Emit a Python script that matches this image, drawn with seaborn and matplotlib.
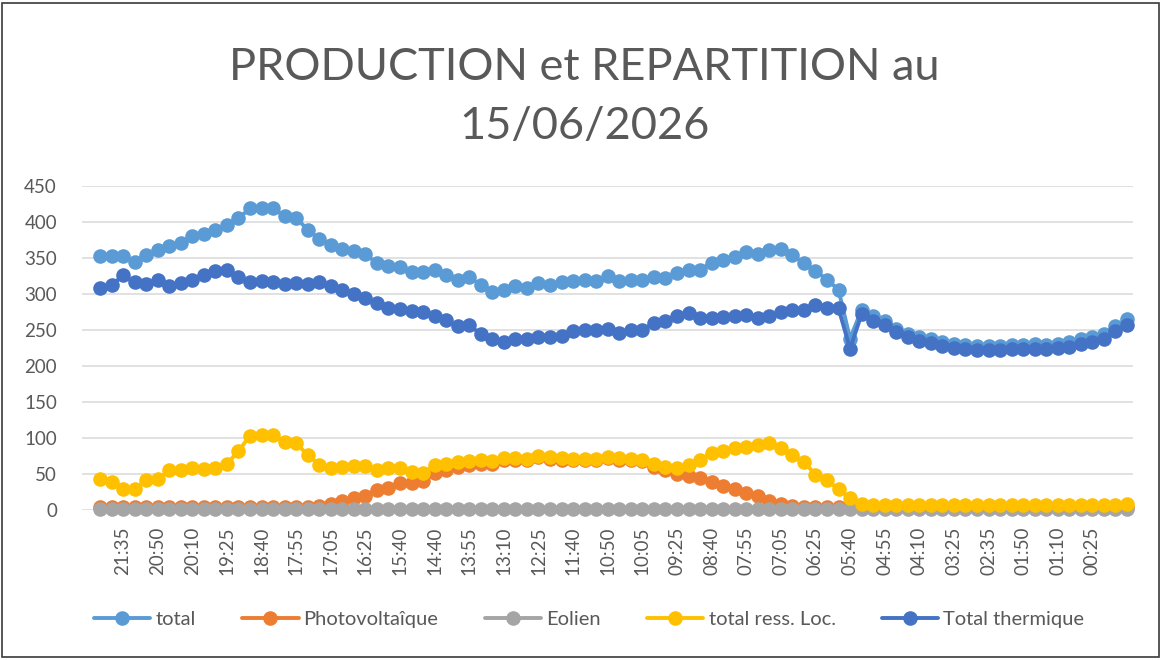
import matplotlib
matplotlib.use("Agg")
import pandas as pd
import numpy as np
import seaborn as sns
import matplotlib.pyplot as plt
from matplotlib.lines import Line2D
from matplotlib.patches import Rectangle

sns.set_theme(style="white")
plt.rcParams['font.family'] = ['Lato', 'DejaVu Sans']

### Data (90 points, time runs backwards)
tick_labels = ["21:35", "20:50", "20:10", "19:25", "18:40", "17:55", "17:05", "16:25",
               "15:40", "14:40", "13:55", "13:10", "12:25", "11:40", "10:50", "10:05",
               "09:25", "08:40", "07:55", "07:05", "06:25", "05:40", "04:55", "04:10",
               "03:25", "02:35", "01:50", "01:10", "00:25"]

total = [353, 353, 353, 345, 354, 361, 367, 371, 380, 383,
         389, 396, 405, 419, 420, 419, 408, 406, 389, 377,
         368, 363, 360, 355, 343, 339, 337, 331, 330, 333,
         327, 319, 324, 312, 303, 306, 311, 308, 315, 312,
         316, 318, 320, 318, 325, 318, 319, 320, 323, 322,
         329, 334, 334, 343, 347, 352, 359, 356, 361, 362,
         354, 343, 332, 320, 306, 238, 278, 270, 263, 252,
         245, 240, 238, 233, 230, 229, 228, 228, 228, 229,
         229, 230, 229, 230, 233, 237, 240, 244, 256, 265]

photovoltaique = [4, 4, 4, 4, 4, 4, 4, 4, 4, 4,
                  4, 4, 4, 4, 4, 4, 4, 4, 4, 5,
                  8, 12, 17, 20, 28, 30, 37, 38, 40, 51,
                  56, 60, 62, 64, 64, 70, 70, 69, 73, 71,
                  70, 69, 69, 69, 72, 70, 69, 68, 60, 56,
                  50, 47, 44, 39, 33, 29, 24, 19, 13, 8,
                  5, 4, 4, 4, 4, 4, 4, 4, 4, 4,
                  4, 4, 4, 4, 4, 4, 4, 4, 4, 4,
                  4, 4, 4, 4, 4, 4, 4, 4, 4, 4]

eolien = [2, 2, 2, 2, 2, 2, 2, 2, 2, 2,
          2, 2, 2, 2, 2, 2, 2, 2, 2, 2,
          2, 2, 2, 2, 2, 2, 2, 2, 2, 2,
          2, 2, 2, 2, 2, 2, 2, 2, 2, 2,
          2, 2, 2, 2, 2, 2, 2, 2, 2, 2,
          2, 2, 2, 2, 2, 2, 2, 2, 2, 2,
          2, 2, 2, 2, 2, 2, 2, 2, 2, 2,
          2, 2, 2, 2, 2, 2, 2, 2, 2, 2,
          2, 2, 2, 2, 2, 2, 2, 2, 2, 2]

total_ress_loc = [43, 39, 29, 29, 42, 43, 55, 56, 58, 57,
                  58, 64, 82, 103, 104, 104, 94, 93, 76, 63,
                  58, 60, 61, 61, 56, 59, 59, 53, 52, 62,
                  64, 67, 68, 69, 68, 72, 72, 71, 75, 73,
                  72, 71, 71, 71, 74, 72, 71, 70, 64, 60,
                  58, 62, 70, 79, 82, 86, 88, 90, 93, 86,
                  76, 67, 49, 41, 29, 16, 8, 7, 7, 7,
                  7, 7, 7, 7, 7, 7, 7, 7, 7, 7,
                  7, 7, 7, 7, 7, 7, 7, 7, 7, 8]

total_thermique = [309, 312, 326, 316, 314, 319, 311, 315, 320, 326,
                   332, 334, 323, 317, 318, 317, 314, 315, 314, 316,
                   311, 305, 300, 294, 287, 280, 279, 277, 275, 269,
                   264, 255, 257, 244, 237, 233, 238, 237, 240, 240,
                   242, 248, 250, 250, 251, 246, 250, 250, 260, 263,
                   269, 273, 266, 266, 268, 269, 271, 266, 269, 275,
                   278, 278, 285, 281, 280, 224, 272, 263, 257, 247,
                   240, 235, 232, 228, 225, 223, 222, 222, 222, 223,
                   223, 224, 224, 225, 227, 230, 233, 238, 249, 257]

series_names = ["total", "Photovoltaîque", "Eolien", "total ress. Loc.", "Total thermique"]
series_values = [total, photovoltaique, eolien, total_ress_loc, total_thermique]
colors = ["#5B9BD5", "#ED7D31", "#A5A5A5", "#FFC000", "#4472C4"]

#Long format for seaborn
frames = []
for name, vals in zip(series_names, series_values):
    frames.append(pd.DataFrame({"pos": np.arange(len(vals)), "valeur": vals, "serie": name}))
df = pd.concat(frames, ignore_index=True)

### Plot
txt = "#595959"
fig = plt.figure(figsize=(11.62, 6.6), dpi=100)
ax = fig.add_axes([82/1162, 150/660, (1133-82)/1162, (510-186)/660])

sns.lineplot(data=df, x="pos", y="valeur", hue="serie", hue_order=series_names,
             palette=colors, marker="o", markersize=10.5, markeredgewidth=0,
             linewidth=2.8, sort=False, legend=False, clip_on=False, ax=ax)

ax.set_xlim(-1.56, 89.52)
ax.set_ylim(0, 450)
ax.set_yticks(np.arange(0, 451, 50))
ax.set_xticks(np.arange(2, 87, 3))
ax.set_xticklabels(tick_labels, rotation=90)
ax.tick_params(axis="y", labelsize=13.5, colors=txt, length=0, pad=18)
ax.tick_params(axis="x", labelsize=13.5, colors=txt, length=0, pad=12)
ax.set_xlabel("")
ax.set_ylabel("")
ax.yaxis.grid(True, color="#D9D9D9", linewidth=1.1)
ax.set_axisbelow(True)
sns.despine(ax=ax, left=True, bottom=True)

fig.text(0.503, 0.853, "PRODUCTION et REPARTITION au\n15/06/2026", ha="center", va="center",
         fontsize=32.5, color=txt, linespacing=1.55)

handles = [Line2D([0], [0], color=c, lw=2.8, marker="o", markersize=10.5, markeredgewidth=0)
           for c in colors]
fig.legend(handles, series_names, loc="center", bbox_to_anchor=(0.507, 0.062), ncol=5,
           frameon=False, fontsize=14.5, labelcolor=txt, handlelength=2.8,
           handletextpad=0.25, columnspacing=2.3)

fig.add_artist(Rectangle((2/1162, 3/660), 1157/1162, 654/660, transform=fig.transFigure,
                         fill=False, edgecolor="#3a3a3a", linewidth=1.2))

plt.savefig("out.png", dpi=100)
